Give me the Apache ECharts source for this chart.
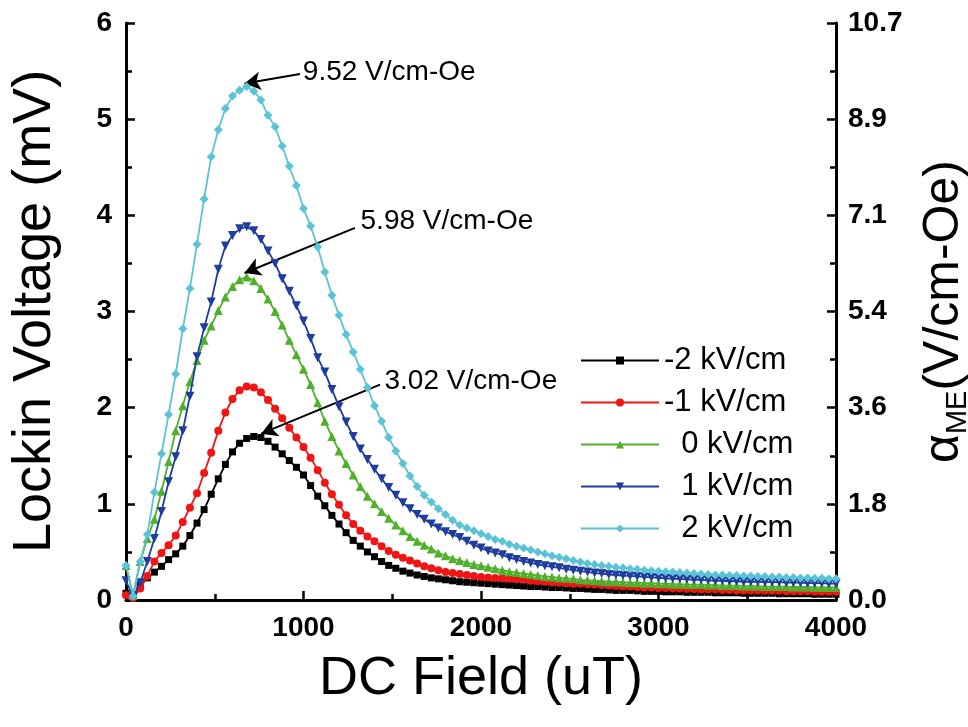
<!DOCTYPE html>
<html>
<head>
<meta charset="utf-8">
<script src="https://cdn.jsdelivr.net/npm/echarts@6/dist/echarts.min.js"></script>
<style>
  html, body { margin: 0; padding: 0; background: #fff; }
  #container { width: 968px; height: 727px; }
</style>
</head>
<body>
<div id="container"></div>
<script>
// DC field sampling grid (uT)
var fieldUT = [
  0, 40, 80, 120, 160, 200, 240, 280, 320, 360, 400, 440, 480, 520, 560, 600, 640, 680, 720, 760,
  800, 840, 880, 920, 960, 1000, 1040, 1080, 1120, 1160, 1200, 1240, 1280, 1320, 1360, 1400, 1440, 1480, 1520, 1560,
  1600, 1640, 1680, 1720, 1760, 1800, 1840, 1880, 1920, 1960, 2000, 2040, 2080, 2120, 2160, 2200, 2240, 2280, 2320, 2360,
  2400, 2440, 2480, 2520, 2560, 2600, 2640, 2680, 2720, 2760, 2800, 2840, 2880, 2920, 2960, 3000, 3040, 3080, 3120, 3160,
  3200, 3240, 3280, 3320, 3360, 3400, 3440, 3480, 3520, 3560, 3600, 3640, 3680, 3720, 3760, 3800, 3840, 3880, 3920, 3960,
  4000
];

// lockin voltage (mV), one array per bias field
var vMinus2 = [
  0.07, 0.03, 0.15, 0.23, 0.29, 0.35, 0.42, 0.48, 0.56, 0.67, 0.80, 0.94, 1.10, 1.26, 1.41, 1.54, 1.63, 1.68, 1.70, 1.69,
  1.65, 1.59, 1.52, 1.45, 1.38, 1.30, 1.19, 1.08, 0.98, 0.88, 0.79, 0.70, 0.62, 0.56, 0.50, 0.45, 0.40, 0.36, 0.33, 0.30,
  0.28, 0.26, 0.245, 0.23, 0.22, 0.21, 0.20, 0.19, 0.185, 0.18, 0.175, 0.17, 0.165, 0.16, 0.155, 0.15, 0.145, 0.14, 0.14, 0.135,
  0.13, 0.13, 0.125, 0.12, 0.12, 0.115, 0.11, 0.11, 0.105, 0.10, 0.10, 0.10, 0.095, 0.09, 0.09, 0.09, 0.085, 0.085, 0.085, 0.08,
  0.08, 0.08, 0.08, 0.075, 0.075, 0.075, 0.075, 0.07, 0.07, 0.07, 0.07, 0.07, 0.065, 0.065, 0.065, 0.065, 0.065, 0.06, 0.06, 0.06,
  0.06
];
var vMinus1 = [
  0.05, 0.02, 0.12, 0.25, 0.40, 0.49, 0.57, 0.67, 0.81, 0.96, 1.11, 1.32, 1.53, 1.76, 1.95, 2.09, 2.18, 2.22, 2.21, 2.16,
  2.08, 1.99, 1.89, 1.79, 1.69, 1.59, 1.48, 1.35, 1.22, 1.10, 0.99, 0.88, 0.79, 0.72, 0.66, 0.61, 0.56, 0.51, 0.47, 0.44,
  0.41, 0.38, 0.35, 0.33, 0.31, 0.29, 0.28, 0.27, 0.26, 0.25, 0.24, 0.235, 0.23, 0.225, 0.22, 0.215, 0.21, 0.20, 0.195, 0.19,
  0.185, 0.18, 0.175, 0.17, 0.17, 0.165, 0.16, 0.155, 0.15, 0.145, 0.14, 0.14, 0.135, 0.13, 0.13, 0.125, 0.125, 0.12, 0.12, 0.115,
  0.115, 0.11, 0.11, 0.11, 0.105, 0.105, 0.10, 0.10, 0.10, 0.10, 0.095, 0.095, 0.095, 0.09, 0.09, 0.09, 0.09, 0.085, 0.085, 0.085,
  0.085
];
var vZero = [
  0.36, 0.05, 0.40, 0.64, 0.84, 1.13, 1.44, 1.76, 2.02, 2.27, 2.49, 2.70, 2.85, 3.01, 3.15, 3.26, 3.33, 3.36, 3.32, 3.24,
  3.13, 3.00, 2.86, 2.70, 2.55, 2.40, 2.24, 2.05, 1.86, 1.70, 1.55, 1.42, 1.30, 1.18, 1.08, 1.00, 0.92, 0.85, 0.78, 0.72,
  0.66, 0.61, 0.57, 0.53, 0.49, 0.46, 0.43, 0.41, 0.39, 0.37, 0.355, 0.34, 0.325, 0.31, 0.295, 0.285, 0.275, 0.265, 0.255, 0.245,
  0.24, 0.23, 0.225, 0.22, 0.21, 0.205, 0.20, 0.195, 0.19, 0.19, 0.185, 0.18, 0.18, 0.175, 0.175, 0.17, 0.17, 0.165, 0.165, 0.16,
  0.16, 0.16, 0.155, 0.155, 0.15, 0.15, 0.15, 0.145, 0.145, 0.145, 0.14, 0.14, 0.14, 0.14, 0.135, 0.135, 0.135, 0.13, 0.13, 0.13,
  0.13
];
var vPlus1 = [
  0.20, 0.03, 0.18, 0.40, 0.64, 0.92, 1.23, 1.49, 1.76, 2.12, 2.53, 2.83, 3.10, 3.44, 3.68, 3.79, 3.86, 3.88, 3.84, 3.75,
  3.63, 3.50, 3.34, 3.21, 3.06, 2.90, 2.72, 2.52, 2.37, 2.19, 2.01, 1.85, 1.70, 1.57, 1.46, 1.36, 1.26, 1.17, 1.09, 1.01,
  0.95, 0.89, 0.84, 0.79, 0.75, 0.71, 0.68, 0.65, 0.61, 0.57, 0.54, 0.51, 0.49, 0.47, 0.44, 0.42, 0.40, 0.385, 0.37, 0.355,
  0.345, 0.335, 0.32, 0.31, 0.30, 0.29, 0.28, 0.275, 0.265, 0.26, 0.255, 0.25, 0.245, 0.24, 0.235, 0.23, 0.225, 0.22, 0.22, 0.215,
  0.21, 0.21, 0.205, 0.20, 0.20, 0.195, 0.195, 0.19, 0.19, 0.19, 0.185, 0.185, 0.185, 0.18, 0.18, 0.18, 0.175, 0.175, 0.175, 0.17,
  0.17
];
var vPlus2 = [
  0.36, 0.04, 0.40, 0.68, 1.12, 1.52, 1.93, 2.35, 2.82, 3.24, 3.70, 4.17, 4.61, 4.89, 5.11, 5.24, 5.30, 5.34, 5.29, 5.20,
  5.04, 4.92, 4.72, 4.51, 4.31, 4.07, 3.89, 3.67, 3.41, 3.17, 2.96, 2.76, 2.58, 2.40, 2.21, 2.02, 1.86, 1.69, 1.55, 1.42,
  1.29, 1.18, 1.09, 1.02, 0.95, 0.89, 0.83, 0.78, 0.75, 0.72, 0.69, 0.66, 0.63, 0.61, 0.58, 0.56, 0.54, 0.52, 0.50, 0.48,
  0.46, 0.445, 0.43, 0.41, 0.395, 0.38, 0.37, 0.36, 0.35, 0.34, 0.335, 0.325, 0.32, 0.31, 0.305, 0.30, 0.295, 0.29, 0.285, 0.28,
  0.275, 0.27, 0.265, 0.26, 0.26, 0.255, 0.255, 0.25, 0.25, 0.245, 0.245, 0.24, 0.24, 0.235, 0.235, 0.23, 0.23, 0.225, 0.225, 0.22,
  0.22
];

var seriesNames = ['-2 kV/cm', '-1 kV/cm', '0 kV/cm', '1 kV/cm', '2 kV/cm'];
var seriesValues = [vMinus2, vMinus1, vZero, vPlus1, vPlus2];
var seriesColors = ['#000000', '#f01414', '#4fb02c', '#1f3d9c', '#5bc3d6'];
var seriesSymbols = ['rect', 'circle', 'triangle', 'triangle', 'diamond'];
var symbolRotates = [0, 0, 0, 180, 0];
var symbolSizes = [7, 8, 9, 9, 9];

// right axis: alpha_ME (V/cm-Oe) labels at left-axis ticks
var alphaTicks = ['0.0', '1.8', '3.6', '5.4', '7.1', '8.9', '10.7'];

// peak annotations: text, text anchor, arrow start, arrow tip
var noteTexts = ['9.52 V/cm-Oe', '5.98 V/cm-Oe', '3.02 V/cm-Oe'];
var noteAnchors = [[985, 5.49], [1310, 3.94], [1445, 2.27]];
var arrowFrom = [[980, 5.47], [1290, 3.87], [1431, 2.24]];
var arrowTo = [[668, 5.37], [668, 3.40], [762, 1.73]];

var FONT = 'Liberation Sans, Arial, Helvetica, sans-serif';

var myChart = echarts.init(document.getElementById('container'));

function buildSeries() {
    var list = seriesNames.map(function (name, k) {
        return {
            name: name,
            type: 'line',
            data: fieldUT.map(function (x, i) { return [x, seriesValues[k][i]]; }),
            symbol: seriesSymbols[k],
            symbolRotate: symbolRotates[k],
            symbolSize: symbolSizes[k],
            showAllSymbol: true,
            color: seriesColors[k],
            lineStyle: { width: 1.8, color: seriesColors[k] },
            itemStyle: { color: seriesColors[k] },
            z: 2 + k,
            animation: false
        };
    });

    list.push({
        name: 'notes',
        type: 'line',
        data: [],
        z: 10,
        animation: false,
        markLine: {
            silent: true,
            symbol: ['none', 'arrow'],
            symbolSize: [14, 16],
            lineStyle: { color: '#000', width: 2, type: 'solid' },
            label: { show: false },
            data: arrowFrom.map(function (p, i) {
                return [{ coord: p }, { coord: arrowTo[i] }];
            })
        },
        markPoint: {
            silent: true,
            symbol: 'circle',
            symbolSize: 0,
            label: {
                show: true,
                position: 'right',
                distance: 2,
                formatter: '{b}',
                color: '#000',
                fontFamily: FONT,
                fontSize: 28
            },
            data: noteTexts.map(function (t, i) {
                return { name: t, coord: noteAnchors[i] };
            })
        }
    });
    return list;
}

var option = {
    backgroundColor: '#fff',
    animation: false,
    grid: { left: 126, right: 132, top: 23, bottom: 127, containLabel: false, outerBoundsMode: 'none' },
    legend: {
        data: seriesNames,
        orient: 'vertical',
        left: 575,
        top: 340,
        itemWidth: 78,
        itemHeight: 10,
        itemGap: 11,
        formatter: function (name) {
            return name.charAt(0) === '-' ? name : '\u2007' + name;
        },
        textStyle: { fontFamily: FONT, fontSize: 31, color: '#000', lineHeight: 30 }
    },
    xAxis: {
        type: 'value',
        min: 0,
        max: 4000,
        interval: 1000,
        name: 'DC Field (uT)',
        nameLocation: 'middle',
        nameGap: 52,
        nameTextStyle: { fontFamily: FONT, fontSize: 54, color: '#000' },
        axisLine: { show: true, lineStyle: { color: '#000', width: 3 } },
        axisTick: { show: true, inside: true, length: 9, lineStyle: { color: '#000', width: 2.5 } },
        minorTick: { show: true, splitNumber: 2, length: 6, lineStyle: { color: '#000', width: 2.5 } },
        axisLabel: {
            fontFamily: FONT, fontSize: 28, fontWeight: 'bold', color: '#000', margin: 14,
            formatter: function (v) { return String(v); }
        },
        splitLine: { show: false }
    },
    yAxis: [
        {
            type: 'value',
            min: 0,
            max: 6,
            interval: 1,
            name: 'Lockin Voltage (mV)',
            nameLocation: 'middle',
            nameGap: 64,
            nameRotate: 90,
            nameTextStyle: { fontFamily: FONT, fontSize: 54, color: '#000' },
            axisLine: { show: true, onZero: false, lineStyle: { color: '#000', width: 3 } },
            axisTick: { show: true, inside: true, length: 9, lineStyle: { color: '#000', width: 2.5 } },
            minorTick: { show: true, splitNumber: 2, length: 6, lineStyle: { color: '#000', width: 2.5 } },
            axisLabel: { fontFamily: FONT, fontSize: 28, fontWeight: 'bold', color: '#000', margin: 14 },
            splitLine: { show: false }
        },
        {
            type: 'value',
            position: 'right',
            min: 0,
            max: 6,
            interval: 1,
            name: '{a|α}{s|ME}{a|(V/cm-Oe)}',
            nameLocation: 'middle',
            nameGap: 80,
            nameRotate: 90,
            nameTextStyle: {
                color: '#000',
                rich: {
                    a: { fontFamily: FONT, fontSize: 50, color: '#000', lineHeight: 56 },
                    s: { fontFamily: FONT, fontSize: 29, color: '#000', lineHeight: 56, verticalAlign: 'bottom', padding: [16, 0, 0, 0] }
                }
            },
            axisLine: { show: true, onZero: false, lineStyle: { color: '#000', width: 3 } },
            axisTick: { show: true, inside: true, length: 9, lineStyle: { color: '#000', width: 2.5 } },
            minorTick: { show: true, splitNumber: 2, length: 6, lineStyle: { color: '#000', width: 2.5 } },
            axisLabel: {
                fontFamily: FONT, fontSize: 28, fontWeight: 'bold', color: '#000', margin: 12,
                formatter: function (v) { return alphaTicks[Math.round(v)]; }
            },
            splitLine: { show: false }
        }
    ],
    series: buildSeries()
};

myChart.setOption(option);
</script>
</body>
</html>
